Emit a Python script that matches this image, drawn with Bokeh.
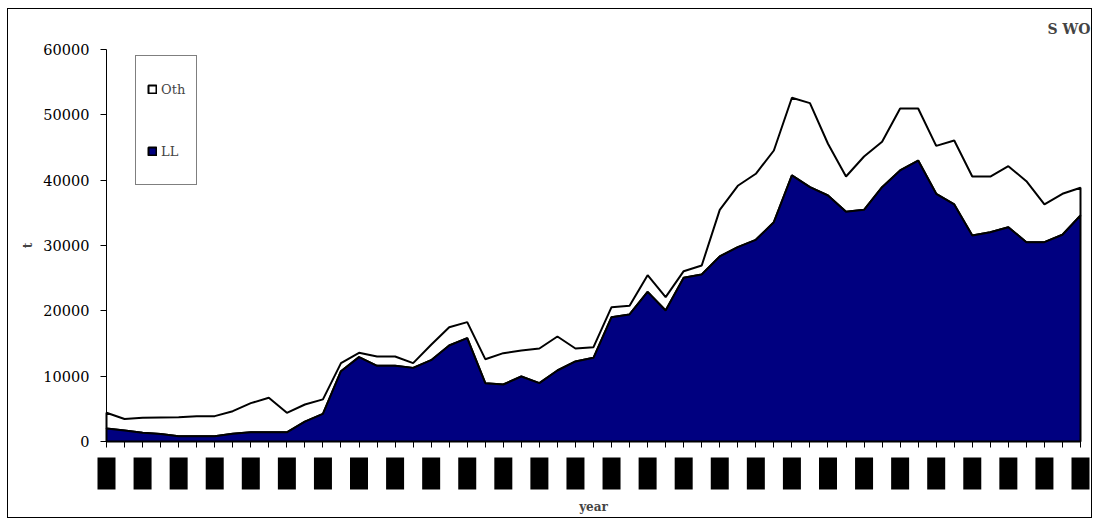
import numpy as np
from bokeh.plotting import figure
from bokeh.models import Legend, LegendItem, FixedTicker, NumeralTickFormatter, Label
from bokeh.embed import file_html
from bokeh.resources import INLINE

# ---- data (tonnes) ----
years = list(range(1950, 2005))
ll = [2000, 1700, 1350, 1150, 800, 800, 800, 1200, 1400, 1400,
      1400, 3050, 4230, 10760, 12910, 11580, 11580, 11270, 12450, 14690,
      15820, 8930, 8720, 9950, 8930, 10870, 12250, 12810, 19030, 19440,
      22910, 20050, 25050, 25560, 28320, 29740, 30870, 33570, 40720, 38930,
      37650, 35160, 35460, 38930, 41480, 43010, 37910, 36280, 31530, 32040,
      32800, 30510, 30510, 31640, 34590]
oth = [2400, 1750, 2270, 2520, 2920, 3080, 3080, 3440, 4470, 5300,
       2990, 2610, 2220, 1240, 660, 1430, 1430, 730, 2350, 2810,
       2450, 3670, 4800, 3980, 5310, 5200, 1990, 1630, 1530, 1330,
       2550, 2040, 1020, 1380, 7140, 9400, 10110, 10970, 11890, 12860,
       7920, 5400, 8160, 6940, 9490, 7960, 7340, 9790, 9030, 8520,
       9340, 9340, 5770, 6270, 4240]
label_years = years[::2]
y_ticks = [0, 10000, 20000, 30000, 40000, 50000, 60000]
y_max = 60000
series_names = ["Oth", "LL"]
title_text = "S WO"

x = np.array(years, dtype=float)
ll_a = np.array(ll, dtype=float)
tot = ll_a + np.array(oth, dtype=float)

xs_poly = np.concatenate([x, x[::-1]])
ys_ll = np.concatenate([ll_a, np.zeros_like(ll_a)])
ys_oth = np.concatenate([tot, ll_a[::-1]])

FONT = "DejaVu Serif"

# ---- layout (page pixels) ----
CANVAS_LEFT, CANVAS_TOP = 8, 9
CANVAS_W, CANVAS_H = 1085, 510
MB_L, MB_R, MB_T, MB_B = 4, 3, 29, 3
AXIS_LEFT, AXIS_RIGHT = 106, 1080   # page x of first / last year
AXIS_TOP, AXIS_ZERO = 49, 441       # page y of y_max / zero
frame_left = CANVAS_LEFT + MB_L
frame_right = CANVAS_LEFT + CANVAS_W - MB_R
frame_top = CANVAS_TOP + MB_T
frame_bottom = CANVAS_TOP + CANVAS_H - MB_B
px_per_year = (AXIS_RIGHT - AXIS_LEFT) / (years[-1] - years[0])
px_per_unit = (AXIS_ZERO - AXIS_TOP) / y_max
x_start = years[0] - (AXIS_LEFT - frame_left) / px_per_year
x_end = years[-1] + (frame_right - AXIS_RIGHT) / px_per_year
y_start = -(frame_bottom - AXIS_ZERO) / px_per_unit
y_end = y_max + (AXIS_TOP - frame_top) / px_per_unit
below_px = frame_bottom - AXIS_ZERO

p = figure(width=CANVAS_W, height=CANVAS_H, x_range=(x_start, x_end), y_range=(y_start, y_end),
           output_backend="svg", toolbar_location=None,
           min_border_left=MB_L, min_border_right=MB_R, min_border_top=MB_T, min_border_bottom=MB_B)
p.styles = {"border": "1px solid black", "margin": "8px 0px 0px 7px"}
p.background_fill_color = "white"
p.border_fill_color = "white"
p.outline_line_color = None
p.xgrid.visible = False
p.ygrid.visible = False

r_oth = p.patch(xs_poly, ys_oth, fill_color="white", line_color="black", line_width=2)
r_ll = p.patch(xs_poly, ys_ll, fill_color="#000080", line_color="black", line_width=2)

# title
p.title.text = title_text
p.title.align = "right"
p.title.text_font = FONT
p.title.text_font_size = "14px"
p.title.text_font_style = "bold"
p.title.offset = 0
p.title.standoff = 4

# y axis
ya = p.yaxis[0]
ya.fixed_location = years[0]
ya.bounds = (0, y_max)
ya.ticker = FixedTicker(ticks=y_ticks)
ya.formatter = NumeralTickFormatter(format="0")
ya.major_tick_out = 6
ya.major_tick_in = 0
ya.minor_tick_line_color = None
ya.axis_line_color = "black"
ya.major_tick_line_color = "black"
ya.major_label_text_font = FONT
ya.major_label_text_font_size = "14.5px"
ya.major_label_text_color = "black"
ya.major_label_standoff = 11
ya.axis_label = "t"
ya.axis_label_text_font = FONT
ya.axis_label_text_font_style = "bold"
ya.axis_label_text_font_size = "12px"
ya.axis_label_standoff = 5

# x axis
xa = p.xaxis[0]
xa.fixed_location = 0
xa.bounds = (years[0], years[-1])
xa.ticker = FixedTicker(ticks=years)
xa.major_label_overrides = {y: "" for y in years}
xa.major_tick_out = 6
xa.major_tick_in = 0
xa.minor_tick_line_color = None
xa.axis_line_color = "black"
xa.major_tick_line_color = "black"
xa.axis_label = "year"
xa.axis_label_text_font = FONT
xa.axis_label_text_font_style = "bold"
xa.axis_label_text_font_size = "12px"
xa.axis_label_standoff = 52

# year tick labels drawn as vertical boxed labels
for yr in label_years:
    lab = Label(x=yr, y=below_px - 16, y_units="screen", text=str(yr), angle=90, angle_units="deg",
                text_align="right", text_baseline="middle", text_font="Liberation Serif",
                text_font_size="13px", text_font_style="bold", text_color="black",
                background_fill_color="black")
    try:
        lab.padding = (3, 5)
    except Exception:
        try:
            lab.padding = 3
        except Exception:
            pass
    p.add_layout(lab)

legend = Legend(items=[LegendItem(label=series_names[0], renderers=[r_oth]),
                       LegendItem(label=series_names[1], renderers=[r_ll])],
                location=(135 - frame_left, frame_bottom - 185))
legend.border_line_color = "black"
legend.border_line_width = 1
legend.background_fill_alpha = 1
legend.label_text_font = FONT
legend.label_text_font_size = "13px"
legend.glyph_width = 10
legend.glyph_height = 10
legend.label_standoff = 4
legend.label_height = 44
legend.spacing = 18
legend.padding = 11
legend.margin = 0
p.add_layout(legend, "center")

open("out.html", "w").write(file_html(p, INLINE))
